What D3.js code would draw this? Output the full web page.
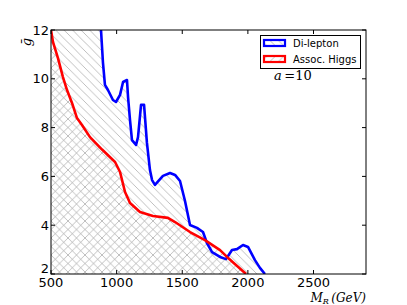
<!DOCTYPE html>
<html><head><meta charset="utf-8">
<script src="https://cdn.jsdelivr.net/npm/d3@7"></script>
<style>body{margin:0;background:#fff}svg{display:block}</style>
</head><body><svg id="c" width="407" height="305"></svg>
<script>
// Data
const dileptonMR = [881,896,911,934,972,995,1026,1049,1079,1087,1102,1117,1148,1163,1186,1209,1231,1254,1270,1292,1353,1407,1445,1483,1521,1559,1612,1658,1688,1727,1788,1833,1849,1879,1917,1963,2001,2054,2092,2130];
const dileptonG  = [12,10.65,9.75,9.54,9.13,9.05,9.34,9.87,9.95,9.25,8.31,7.49,7.29,7.61,8.93,8.93,7.37,6.26,5.85,5.65,6.02,6.14,6.06,5.81,4.99,4.01,3.89,3.72,3.27,2.90,2.70,2.61,2.74,2.98,3.02,3.19,3.11,2.57,2.25,2.0];
const higgsMR = [500,515,553,591,622,660,698,736,797,889,988,1026,1064,1102,1178,1277,1391,1445,1559,1673,1788,1841,1986];
const higgsG  = [12,11.51,10.85,10.07,9.54,9.01,8.39,8.11,7.61,7.1,6.59,6.18,5.36,4.91,4.54,4.38,4.30,4.13,3.72,3.39,2.98,2.70,2.0];
const xTicks = [500,1000,1500,2000,2500];
const yTicks = [2,4,6,8,10,12];
const seriesNames = ["Di-lepton","Assoc. Higgs"];
const seriesColors = ["#0000ff","#ff0000"];

const svg = d3.select("#c");
const L=51, R=366, T=30, B=274;
const x = d3.scaleLinear().domain([500,2900]).range([L,R]);
const y = d3.scaleLinear().domain([2,12]).range([B,T]);

const defs = svg.append("defs");
const sp = 8.5;
function hatch(id, dir){
  const p = defs.append("pattern").attr("id",id).attr("patternUnits","userSpaceOnUse")
    .attr("width",sp).attr("height",sp);
  const segs = dir==="back" ? [[-sp,0,sp,2*sp],[0,0,sp,sp],[0,-sp,2*sp,sp]] : [[0,sp,sp,0],[-sp,sp,sp,-sp],[0,2*sp,2*sp,0]];
  segs.forEach(s=>p.append("line").attr("x1",s[0]).attr("y1",s[1]).attr("x2",s[2]).attr("y2",s[3])
    .attr("stroke","#b8b8b8").attr("stroke-width",0.9));
}
hatch("hb","back"); hatch("hf","fwd");
defs.append("clipPath").attr("id","clip").append("rect").attr("x",L).attr("y",T).attr("width",R-L).attr("height",B-T);

const dl = dileptonMR.map((m,i)=>[m,dileptonG[i]]);
const hg = higgsMR.map((m,i)=>[m,higgsG[i]]);
const line = d3.line().x(d=>x(d[0])).y(d=>y(d[1]));
const g = svg.append("g").attr("clip-path","url(#clip)");

// hatched regions
g.append("path").attr("d", line([[500,2],[500,12],...dl,[2130,2]]) + "Z").attr("fill","url(#hb)");
g.append("path").attr("d", line([[500,2],...hg,[1986,2]]) + "Z").attr("fill","url(#hf)");

// curves
g.append("path").attr("d",line(dl)).attr("fill","none").attr("stroke",seriesColors[0]).attr("stroke-width",2.6).attr("stroke-linejoin","round");
g.append("path").attr("d",line(hg)).attr("fill","none").attr("stroke",seriesColors[1]).attr("stroke-width",2.6).attr("stroke-linejoin","round");

// frame
svg.append("rect").attr("x",L).attr("y",T).attr("width",R-L).attr("height",B-T).attr("fill","none").attr("stroke","#000").attr("stroke-width",1);

// ticks (inside, all sides)
const tk = svg.append("g").attr("stroke","#000").attr("stroke-width",1);
xTicks.forEach(v=>{
  tk.append("line").attr("x1",x(v)).attr("x2",x(v)).attr("y1",B).attr("y2",B-4);
  tk.append("line").attr("x1",x(v)).attr("x2",x(v)).attr("y1",T).attr("y2",T+4);
});
yTicks.forEach(v=>{
  tk.append("line").attr("x1",L).attr("x2",L+4).attr("y1",y(v)).attr("y2",y(v));
  tk.append("line").attr("x1",R).attr("x2",R-4).attr("y1",y(v)).attr("y2",y(v));
});
const font="DejaVu Sans";
xTicks.forEach(v=>svg.append("text").attr("x",x(v)).attr("y",B+13).attr("text-anchor","middle")
  .attr("font-family",font).attr("font-size",13).text(v));
yTicks.forEach(v=>svg.append("text").attr("x",L-2).attr("y",Math.min(y(v)+4.5,272.5)).attr("text-anchor","end")
  .attr("font-family",font).attr("font-size",13).text(v));

// axis labels
const xl = svg.append("text").attr("x",R).attr("y",301.5).attr("text-anchor","end")
  .attr("font-family","DejaVu Serif").attr("font-size",12).attr("font-style","italic");
xl.append("tspan").text("M");
xl.append("tspan").attr("font-size",8).attr("dy",2.5).text("R");
xl.append("tspan").attr("dy",-2.5).text("\u2009(GeV)");
svg.append("text").attr("transform","translate(31,42) rotate(-90)").attr("text-anchor","middle")
  .attr("font-family","DejaVu Serif").attr("font-size",13).attr("font-style","italic").text("ḡ");

// annotation
const an = svg.append("text").attr("x",274).attr("y",80).attr("font-family","DejaVu Serif").attr("font-size",13);
an.append("tspan").attr("font-style","italic").text("a");
an.append("tspan").text("\u2009=10");

// legend
const lg = svg.append("g");
lg.append("rect").attr("x",260.5).attr("y",35.5).attr("width",100).attr("height",33).attr("fill","#fff").attr("stroke","#000").attr("stroke-width",1);
const pats=["url(#hb)","url(#hf)"];
seriesNames.forEach((n,i)=>{
  const yy = 40 + i*16;
  lg.append("rect").attr("x",264).attr("y",yy).attr("width",21).attr("height",6).attr("fill","#fff");
  lg.append("rect").attr("x",264).attr("y",yy).attr("width",21).attr("height",6).attr("fill",pats[i]).attr("stroke",seriesColors[i]).attr("stroke-width",2.2);
  lg.append("text").attr("x",293).attr("y",yy+7).attr("font-family",font).attr("font-size",10).text(n);
});
</script></body></html>
